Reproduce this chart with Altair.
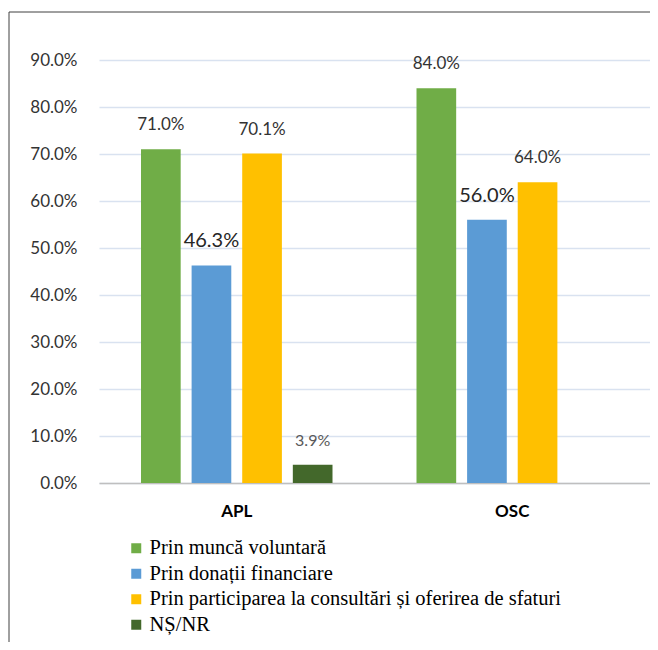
import altair as alt
import pandas as pd

groups = ["APL", "APL", "APL", "APL", "OSC", "OSC", "OSC"]
series_names = [
    "Prin muncă voluntară",
    "Prin donații financiare",
    "Prin participarea la consultări și oferirea de sfaturi",
    "NȘ/NR",
]
series = [series_names[0], series_names[1], series_names[2], series_names[3],
          series_names[0], series_names[1], series_names[2]]
values = [0.710, 0.463, 0.701, 0.039, 0.840, 0.560, 0.640]
colors = ["#70AD47", "#5B9BD5", "#FFC000", "#43682B"]
y_ticks = [0.0, 0.1, 0.2, 0.3, 0.4, 0.5, 0.6, 0.7, 0.8, 0.9]

df = pd.DataFrame({"grup": groups, "serie": series, "val": values})

base = alt.Chart(df)

bars = base.mark_bar().encode(
    x=alt.X("grup:N", title=None,
            scale=alt.Scale(paddingInner=0, paddingOuter=0),
            axis=alt.Axis(labelAngle=0, labelFontWeight="bold", labelFontSize=17,
                          labelColor="#000000", labelFont="Lato", ticks=False,
                          domain=True, domainColor="#BFBFBF", domainWidth=1.5,
                          labelPadding=20, grid=False)),
    xOffset=alt.XOffset("serie:N", sort=series_names,
                        scale=alt.Scale(domain=series_names, paddingInner=0.216, paddingOuter=0.83)),
    y=alt.Y("val:Q", title=None,
            scale=alt.Scale(domain=[0, 0.9], nice=False),
            axis=alt.Axis(values=y_ticks, format=".1%", domain=False, ticks=False,
                          labelFontSize=17, labelFont="Lato", labelColor="#333333",
                          labelPadding=22, gridColor="#D9E2F0", gridWidth=1.5)),
    color=alt.Color("serie:N", sort=series_names,
                    scale=alt.Scale(domain=series_names, range=colors),
                    legend=alt.Legend(title=None, orient="none", legendX=27, legendY=478,
                                      symbolType="square", symbolSize=100,
                                      symbolStrokeWidth=0,
                                      labelFont="Liberation Serif",
                                      labelFontSize=20.5, labelColor="#000000",
                                      rowPadding=4.5, labelOffset=3, labelLimit=600)),
)

label_styles = {
    series_names[0]: (17, "#333333"),
    series_names[1]: (20, "#262626"),
    series_names[2]: (17, "#333333"),
    series_names[3]: (16, "#595959"),
}

layers = [bars]
for s in series_names:
    fs, col = label_styles[s]
    layers.append(
        base.transform_filter(alt.datum.serie == s).mark_text(
            dy=-24, baseline="middle", font="Lato", fontSize=fs, color=col
        ).encode(
            x=alt.X("grup:N"),
            xOffset=alt.XOffset("serie:N", sort=series_names),
            y=alt.Y("val:Q"),
            text=alt.Text("val:Q", format=".1%"),
        )
    )

frame = alt.Chart(alt.Data(values=[{"a": 1}]))
left_line = frame.mark_rule(color="#404040", strokeWidth=1).encode(
    x=alt.value(-90), y=alt.value(-48), y2=alt.value(582))
top_line = frame.mark_rule(color="#404040", strokeWidth=1).encode(
    x=alt.value(-90), x2=alt.value(560), y=alt.value(-48))
layers += [left_line, top_line]

chart = alt.layer(*layers).properties(
    width=551, height=423,
    autosize="none",
    padding={"left": 91, "top": 52, "right": 0, "bottom": 159},
).configure_view(stroke=None)

chart.save("out.html", embed_options={"renderer": "svg", "actions": False})
